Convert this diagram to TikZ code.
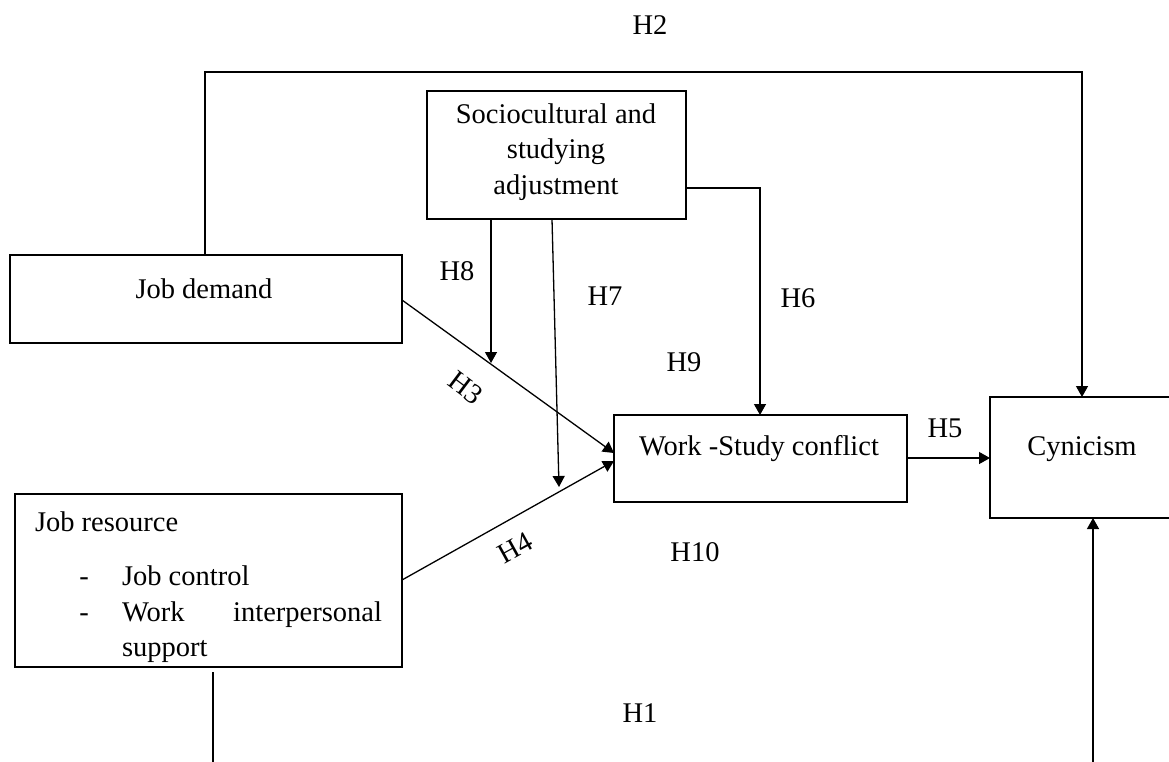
\documentclass[tikz,border=0pt]{standalone}
\usepackage{fontspec}
\setmainfont{Liberation Serif}
\usetikzlibrary{arrows.meta}
\tikzset{
  box/.style={draw, line width=1.3pt, inner sep=0pt, outer sep=0pt},
  txt/.style={inner sep=0pt, outer sep=0pt},
  arr/.style={line width=1.3pt, -{Triangle[length=11pt,width=12pt]}},
}
\begin{document}
\begin{tikzpicture}[x=1pt, y=-1pt, font=\fontsize{28.5}{35.5}\selectfont]
\clip (0,0) rectangle (1169,761);
\fill[white] (0,0) rectangle (1169,761);

% boxes
\node[box, minimum width=259pt, minimum height=128pt] (soc) at (556.5,155) {};
\node[box, minimum width=392pt, minimum height=88pt] (jd) at (206,299) {};
\node[box, minimum width=387pt, minimum height=173pt] (jr) at (208.5,580.5) {};
\node[box, minimum width=293pt, minimum height=87pt] (ws) at (760.5,458.5) {};
\node[box, minimum width=185pt, minimum height=121pt] (cyn) at (1082.5,457.5) {};

% box texts
\node[txt, align=center] (soct) at (556,152) {Sociocultural and\\studying\\adjustment};
\node[txt] (jdt) at (204,289) {Job demand};
\node[txt] (wst) at (759,449) {Work -Study conflict};
\node[txt] (cynt) at (1082,449) {Cynicism};
\node[txt, anchor=base west] (jrt) at (35,531) {Job resource};
\node[txt, anchor=base] (d1) at (84,585) {-};
\node[txt, anchor=base] (d2) at (84,621) {-};
\node[txt, anchor=base west] (jc) at (122,585) {Job control};
\node[txt, anchor=base west] (wk) at (122,621) {Work};
\node[txt, anchor=base east] (ip) at (382,621) {interpersonal};
\node[txt, anchor=base west] (sp) at (122,656) {support};

% coordinates
\coordinate (h2a) at (205,72);
\coordinate (h2b) at (1082,72);
\coordinate (h8t) at (491,363);
\coordinate (h7s) at (552,219);
\coordinate (h7t) at (559,487);
\coordinate (h6c) at (760,188);
\coordinate (h1s) at (213,672);
\coordinate (h1a) at (213,800);
\coordinate (h1b) at (1093,800);

% connectors
\draw[arr] (jd.north -| h2a) -- (h2a) -- (h2b) -- (h2b |- cyn.north);
\draw[arr] (jd.east |- 0,300) -- (ws.west |- 0,453);
\draw[arr] (jr.east |- 0,580) -- (ws.west |- 0,461);
\draw[arr] (soc.south -| h8t) -- (h8t);
\draw[arr] (soc.south -| h7s) -- (h7t);
\draw[arr] (soc.east |- h6c) -- (h6c) -- (h6c |- ws.north);
\draw[arr] (ws.east |- 0,458) -- (cyn.west |- 0,458);
\draw[arr] (h1s) -- (h1a) -- (h1b) -- (h1b |- cyn.south);

% hypothesis labels
\node[txt] (lh2) at (650,25) {H2};
\node[txt] (lh8) at (457,271) {H8};
\node[txt] (lh7) at (605,296) {H7};
\node[txt] (lh6) at (798,298) {H6};
\node[txt] (lh9) at (684,362) {H9};
\node[txt, rotate=-37] (lh3) at (466,388) {H3};
\node[txt, rotate=29] (lh4) at (515,548) {H4};
\node[txt] (lh5) at (945,428) {H5};
\node[txt] (lh10) at (695,552) {H10};
\node[txt] (lh1) at (640,713) {H1};
\end{tikzpicture}
\end{document}
